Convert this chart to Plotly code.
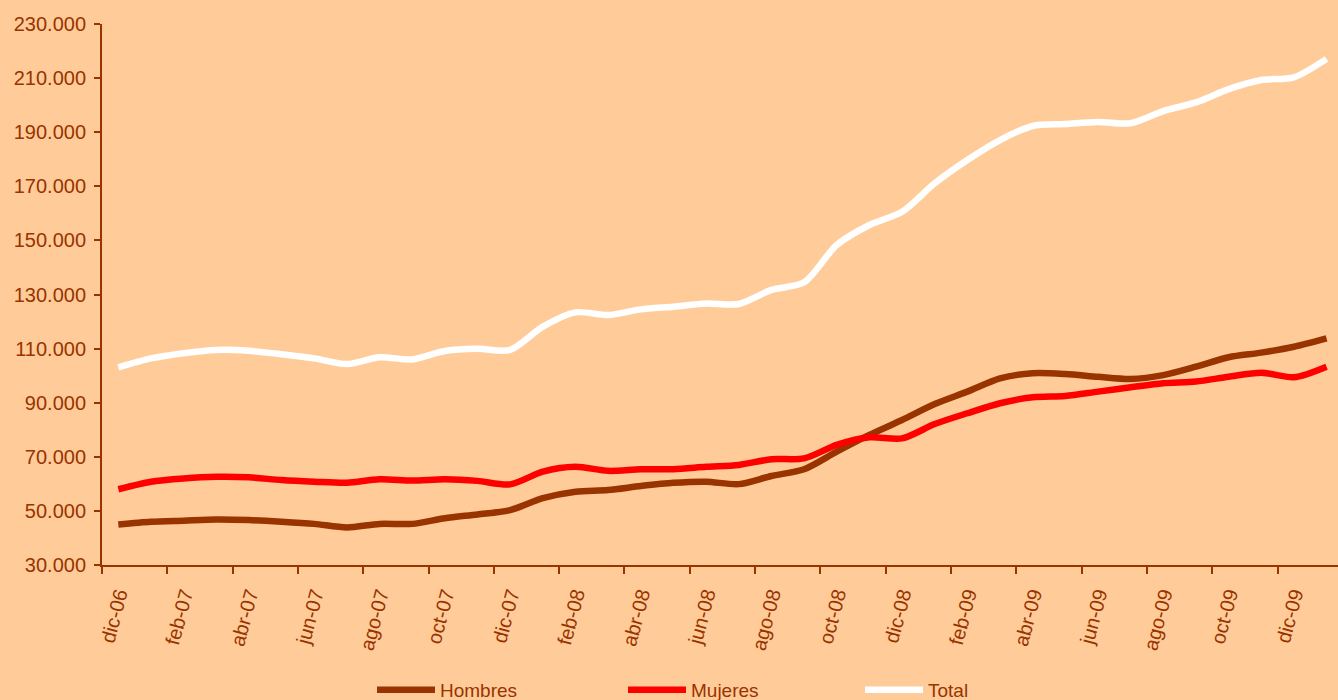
import plotly.graph_objects as go

months = ["dic-06", "ene-07", "feb-07", "mar-07", "abr-07", "may-07", "jun-07", "jul-07",
          "ago-07", "sep-07", "oct-07", "nov-07", "dic-07", "ene-08", "feb-08", "mar-08",
          "abr-08", "may-08", "jun-08", "jul-08", "ago-08", "sep-08", "oct-08", "nov-08",
          "dic-08", "ene-09", "feb-09", "mar-09", "abr-09", "may-09", "jun-09", "jul-09",
          "ago-09", "sep-09", "oct-09", "nov-09", "dic-09", "ene-10"]

hombres = [45000, 46000, 46400, 46800, 46600, 46000, 45200, 43900, 45200, 45200,
           47300, 48700, 50300, 54700, 57100, 57700, 59200, 60400, 60800, 59900,
           62900, 65400, 71900, 78100, 83600, 89500, 94100, 99000, 100900, 100600,
           99600, 98800, 100200, 103300, 106800, 108500, 110700, 113800]

mujeres = [58000, 60800, 62000, 62600, 62400, 61400, 60800, 60400, 61700, 61200,
           61700, 61100, 59800, 64500, 66300, 64800, 65400, 65400, 66300, 67000,
           69100, 69400, 74400, 77200, 76800, 82100, 86100, 89800, 92000, 92500,
           94100, 95700, 97200, 97800, 99600, 101100, 99400, 103300]

total = [103100, 106400, 108300, 109500, 109200, 107900, 106400, 104300, 106800, 106000,
         109100, 109900, 109500, 118100, 123400, 122400, 124500, 125500, 126700, 126500,
         131700, 134500, 148300, 155700, 160600, 171100, 179700, 187100, 192300, 193000,
         193800, 193300, 197800, 201000, 205900, 209300, 210300, 217100]

series = [("Hombres", hombres, "#993300", "legend"),
          ("Mujeres", mujeres, "#FF0000", "legend2"),
          ("Total", total, "#FFFFFF", "legend3")]

BROWN = "#993300"
FONT = "Arial, Liberation Sans, sans-serif"

fig = go.Figure()
for name, vals, color, lg in series:
    fig.add_trace(go.Scatter(x=months, y=vals, name=name, mode="lines", legend=lg,
                             line=dict(color=color, width=6.5, shape="spline", smoothing=0.8)))

def legend_at(xc):
    return dict(orientation="h", xref="container", x=xc, xanchor="left",
                yref="container", y=0.0143, yanchor="middle",
                bgcolor="rgba(0,0,0,0)", font=dict(size=19, color=BROWN, family=FONT),
                itemwidth=58)

fig.update_layout(
    width=1338, height=700,
    paper_bgcolor="#FFCC99", plot_bgcolor="#FFCC99",
    margin=dict(l=102, r=0, t=24, b=135),
    font=dict(family=FONT, size=20, color=BROWN),
    separators=",.",
    showlegend=True,
    legend=legend_at(372 / 1338),
    legend2=legend_at(623 / 1338),
    legend3=legend_at(860 / 1338),
)

fig.update_xaxes(type="category", range=[-0.5, 37.35], tickmode="linear", tick0=0, dtick=2,
                 tickson="boundaries", ticks="outside", ticklen=7, tickwidth=2,
                 tickcolor=BROWN, showline=True, linecolor=BROWN, linewidth=2,
                 showgrid=False, zeroline=False, tickangle=-75, ticklabelstandoff=8,
                 automargin=False,
                 tickfont=dict(size=20, color=BROWN, family=FONT))

fig.update_yaxes(range=[30000, 230000], tickmode="linear", tick0=30000, dtick=20000,
                 tickformat=",d", ticks="outside", ticklen=6, tickwidth=2,
                 tickcolor=BROWN, showline=True, linecolor=BROWN, linewidth=2,
                 showgrid=False, zeroline=False, ticklabelstandoff=4, automargin=False,
                 tickfont=dict(size=20, color=BROWN, family=FONT))

fig.write_html("out.html", config={"displayModeBar": False},
               post_script="document.body.style.margin='0';document.body.style.background='#FFCC99';")
